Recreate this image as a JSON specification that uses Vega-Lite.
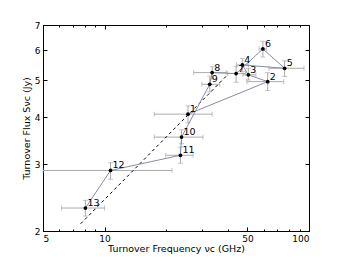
{
  "$schema": "https://vega.github.io/schema/vega-lite/v6.json",
  "width": 266,
  "height": 206,
  "autosize": {"type": "none"},
  "padding": {"left": 43, "top": 25, "right": 35, "bottom": 27},
  "config": {
    "font": "DejaVu Sans",
    "view": {"stroke": "black", "strokeWidth": 1},
    "axis": {"grid": false, "domainColor": "black", "tickColor": "black", "labelColor": "black", "titleColor": "black", "labelFont": "DejaVu Sans", "titleFont": "DejaVu Sans", "labelFontSize": 9, "titleFontSize": 9.5, "titleFontWeight": "normal"}
  },
  "datasets": {
    "pts": [
      {"id": 1, "nu": 25.6, "s": 4.07, "nulo": 17.5, "nuhi": 33.6, "slo": 3.86, "shi": 4.28},
      {"id": 2, "nu": 62.8, "s": 4.96, "nulo": 49.7, "nuhi": 75.3, "slo": 4.70, "shi": 5.24},
      {"id": 3, "nu": 50.5, "s": 5.17, "nulo": 47.5, "nuhi": 55.0, "slo": 5.01, "shi": 5.38},
      {"id": 4, "nu": 47.2, "s": 5.49, "nulo": 44.2, "nuhi": 50.5, "slo": 5.27, "shi": 5.71},
      {"id": 5, "nu": 76.0, "s": 5.38, "nulo": 63.7, "nuhi": 94.5, "slo": 5.12, "shi": 5.63},
      {"id": 6, "nu": 59.5, "s": 6.05, "nulo": 57.0, "nuhi": 62.0, "slo": 5.76, "shi": 6.34},
      {"id": 7, "nu": 44.0, "s": 5.21, "nulo": 40.0, "nuhi": 49.0, "slo": 4.94, "shi": 5.45},
      {"id": 8, "nu": 33.6, "s": 5.24, "nulo": 27.3, "nuhi": 39.4, "slo": 5.04, "shi": 5.43},
      {"id": 9, "nu": 32.7, "s": 4.88, "nulo": 29.9, "nuhi": 36.6, "slo": 4.66, "shi": 5.13},
      {"id": 10, "nu": 23.8, "s": 3.54, "nulo": 17.5, "nuhi": 30.3, "slo": 3.40, "shi": 3.70},
      {"id": 11, "nu": 23.5, "s": 3.17, "nulo": 19.9, "nuhi": 27.1, "slo": 3.02, "shi": 3.33},
      {"id": 12, "nu": 10.7, "s": 2.89, "nulo": 5.0, "nuhi": 21.4, "slo": 2.74, "shi": 3.03},
      {"id": 13, "nu": 8.06, "s": 2.30, "nulo": 6.15, "nuhi": 10.0, "slo": 2.19, "shi": 2.41}
    ],
    "fit": [
      {"nu": 7.64, "s": 2.09},
      {"nu": 39.4, "s": 5.13}
    ]
  },
  "resolve": {"axis": {"x": "independent", "y": "independent"}},
  "layer": [
    {
      "data": {"name": "pts"},
      "mark": {"type": "errorbar", "ticks": {"size": 5, "color": "#aaaaaa"}, "color": "#aaaaaa"},
      "encoding": {
        "x": {"field": "nulo", "type": "quantitative", "scale": {"type": "log", "domain": [5, 100], "nice": false}, "axis": null},
        "x2": {"field": "nuhi"},
        "y": {"field": "s", "type": "quantitative", "scale": {"type": "log", "domain": [2, 7], "nice": false}, "axis": null}
      }
    },
    {
      "data": {"name": "pts"},
      "mark": {"type": "errorbar", "ticks": {"size": 5, "color": "#aaaaaa"}, "color": "#aaaaaa"},
      "encoding": {
        "y": {"field": "slo", "type": "quantitative", "axis": null},
        "y2": {"field": "shi"},
        "x": {"field": "nu", "type": "quantitative", "axis": null}
      }
    },
    {
      "data": {"name": "fit"},
      "mark": {"type": "line", "color": "black", "strokeWidth": 1, "strokeDash": [3, 3]},
      "encoding": {
        "x": {"field": "nu", "type": "quantitative", "axis": {"orient": "top", "values": [5, 10, 50, 100], "labels": false, "tickSize": -4, "domain": false, "title": null}},
        "y": {"field": "s", "type": "quantitative", "axis": {"orient": "right", "values": [2, 3, 4, 5, 6, 7], "labels": false, "tickSize": -4, "domain": false, "title": null}}
      }
    },
    {
      "data": {"name": "pts"},
      "mark": {"type": "line", "color": "#8a8aaa", "strokeWidth": 1},
      "encoding": {
        "x": {"field": "nu", "type": "quantitative", "axis": {"orient": "bottom", "values": [6, 7, 8, 9, 20, 30, 40, 60, 70, 80, 90], "labels": false, "tickSize": -2, "domain": false, "title": null}},
        "y": {"field": "s", "type": "quantitative", "axis": null},
        "order": {"field": "id", "type": "quantitative"}
      }
    },
    {
      "data": {"name": "pts"},
      "mark": {"type": "point", "filled": true, "color": "black", "size": 14, "opacity": 1},
      "encoding": {
        "x": {"field": "nu", "type": "quantitative", "axis": {"orient": "bottom", "values": [5, 10, 50, 100], "format": "d", "tickSize": -4, "labelPadding": 7, "title": "Turnover Frequency νc (GHz)", "titleY": 17, "titleBaseline": "middle"}},
        "y": {"field": "s", "type": "quantitative", "axis": {"orient": "left", "values": [2, 3, 4, 5, 6, 7], "format": "d", "tickSize": -4, "labelPadding": 7, "title": "Turnover Flux Sνc (Jy)", "titleX": -17, "titleBaseline": "middle"}}
      }
    },
    {
      "data": {"name": "pts"},
      "mark": {"type": "text", "align": "left", "baseline": "alphabetic", "dx": 2, "dy": -2, "fontSize": 9.5, "color": "black"},
      "encoding": {
        "x": {"field": "nu", "type": "quantitative", "axis": {"orient": "top", "values": [6, 7, 8, 9, 20, 30, 40, 60, 70, 80, 90], "labels": false, "tickSize": -2, "domain": false, "title": null}},
        "y": {"field": "s", "type": "quantitative", "axis": null},
        "text": {"field": "id", "type": "nominal"}
      }
    }
  ]
}
